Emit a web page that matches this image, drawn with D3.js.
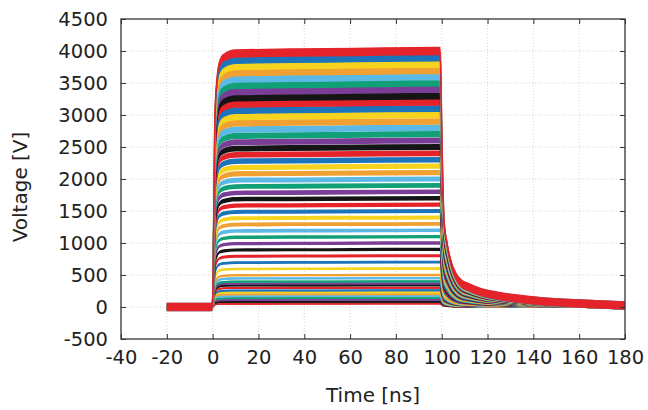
<!DOCTYPE html>
<html>
<head>
<meta charset="utf-8">
<script src="https://cdn.jsdelivr.net/npm/d3@7"></script>
<style>
  html, body { margin: 0; padding: 0; background: #fff; }
  svg text { font-family: "DejaVu Sans", sans-serif; fill: #222; }
</style>
</head>
<body>
<svg id="chart" width="648" height="410"></svg>
<script>
// ---- data ----
const xTicks = [-40, -20, 0, 20, 40, 60, 80, 100, 120, 140, 160, 180];
const yTicks = [-500, 0, 500, 1000, 1500, 2000, 2500, 3000, 3500, 4000, 4500];

// plateau voltage of every trace, top to bottom
const levels = [4000, 3900, 3800, 3700, 3600, 3500, 3400, 3300,
                3200, 3100, 3000, 2900, 2800, 2700, 2600, 2500,
                2400, 2300, 2200, 2100, 2000, 1900, 1800, 1700,
                1600, 1500, 1400, 1300, 1200, 1100, 1000, 900,
                800, 700, 600, 500, 450, 400, 370, 340,
                300, 260, 230, 200, 170, 140, 110, 80, 50];

// colour cycle of the traces (top trace first)
const traceColors = ["#e5232a", "#1c74bb", "#f6d31f", "#f0a132",
                     "#5cb9e6", "#12a077", "#7a3e97", "#151515"];

// normalised pulse profile read from the top (4000 V) trace
const profileTime = [-20, -0.3, 0, 0.5, 1, 2, 3, 5, 10, 50, 99.4, 99.8, 100.3,
                     101, 102.3, 104, 106, 108.7, 111.5, 116.7, 124, 131, 145.7, 160, 180];
const profileFrac = [0, 0, 0.02, 0.35, 0.75, 0.9, 0.95, 0.975, 0.99, 0.995, 1.0, 0.8, 0.55,
                     0.34, 0.25, 0.175, 0.125, 0.092, 0.079, 0.06, 0.045, 0.035, 0.021, 0.014, 0.006];

// ---- layout ----
const svg = d3.select("#chart");
const m = { left: 121, right: 625, top: 19, bottom: 339 };

const x = d3.scaleLinear().domain([-40, 180]).range([m.left, m.right]);
const y = d3.scaleLinear().domain([-500, 4500]).range([m.bottom, m.top]);
// visual half-thickness of each noisy trace band (style), in volts
const bandScale = d3.scaleLinear().domain([0, 4000]).range([12, 66]);

// grid
const grid = svg.append("g");
grid.selectAll("line.gx").data(xTicks.slice(1, -1)).join("line")
  .attr("x1", d => x(d)).attr("x2", d => x(d))
  .attr("y1", m.top).attr("y2", m.bottom)
  .attr("stroke", "#c8c8c8").attr("stroke-width", 0.8).attr("stroke-dasharray", "1,2");
grid.selectAll("line.gy").data(yTicks.slice(1, -1)).join("line")
  .attr("x1", m.left).attr("x2", m.right)
  .attr("y1", d => y(d)).attr("y2", d => y(d))
  .attr("stroke", "#c8c8c8").attr("stroke-width", 0.8).attr("stroke-dasharray", "1,2");

// traces (lowest first so the highest sits on top)
svg.append("clipPath").attr("id", "clip").append("rect")
  .attr("x", m.left).attr("y", m.top).attr("width", m.right - m.left).attr("height", m.bottom - m.top);
const traces = svg.append("g").attr("clip-path", "url(#clip)");
const order = levels.map((v, i) => i).reverse();
const pts = i => profileTime.map((t, k) => [t, levels[i] * profileFrac[k]]);
const line = d3.line().x(d => x(d[0])).y(d => y(d[1])).curve(d3.curveMonotoneX);

const tg = traces.selectAll("g").data(order).join("g");
tg.append("path")
  .attr("d", i => {
    const n = bandScale(levels[i]);
    return d3.area().x(d => x(d[0])).y0(d => y(d[1] - n)).y1(d => y(d[1] + n))
      .curve(d3.curveMonotoneX)(pts(i));
  })
  .attr("fill", i => traceColors[i % traceColors.length]);
tg.append("path")
  .attr("d", i => line(pts(i)))
  .attr("fill", "none")
  .attr("stroke", i => traceColors[i % traceColors.length])
  .attr("stroke-width", 1.6)
  .attr("stroke-linejoin", "round");

// axes (ticks inward on all sides)
const fs = "19.5px";
const fmt = d => String(d);
const axB = svg.append("g").attr("transform", `translate(0,${m.bottom})`)
  .call(d3.axisBottom(x).tickValues(xTicks).tickSizeInner(-5).tickSizeOuter(0).tickPadding(11).tickFormat(fmt));
const axT = svg.append("g").attr("transform", `translate(0,${m.top})`)
  .call(d3.axisTop(x).tickValues(xTicks).tickSizeInner(-5).tickSizeOuter(0).tickFormat(""));
const axL = svg.append("g").attr("transform", `translate(${m.left},0)`)
  .call(d3.axisLeft(y).tickValues(yTicks).tickSizeInner(-5).tickSizeOuter(0).tickPadding(13).tickFormat(fmt));
const axR = svg.append("g").attr("transform", `translate(${m.right},0)`)
  .call(d3.axisRight(y).tickValues(yTicks).tickSizeInner(-5).tickSizeOuter(0).tickFormat(""));
[axB, axT, axL, axR].forEach(a => {
  a.select(".domain").remove();
  a.selectAll(".tick line").attr("stroke", "#333").attr("stroke-width", 1);
  a.selectAll("text").style("font-size", fs).attr("fill", "#222");
});
axB.selectAll(".tick text").attr("dy", "0.71em");

// frame
svg.append("rect").attr("x", m.left).attr("y", m.top)
  .attr("width", m.right - m.left).attr("height", m.bottom - m.top)
  .attr("fill", "none").attr("stroke", "#333").attr("stroke-width", 1.3);

// titles
svg.append("text").attr("x", (m.left + m.right) / 2).attr("y", 402)
  .attr("text-anchor", "middle").style("font-size", "20px").text("Time [ns]");
svg.append("text").attr("transform", "translate(27,187) rotate(-90)")
  .attr("text-anchor", "middle").style("font-size", "20px").text("Voltage [V]");
</script>
</body>
</html>
